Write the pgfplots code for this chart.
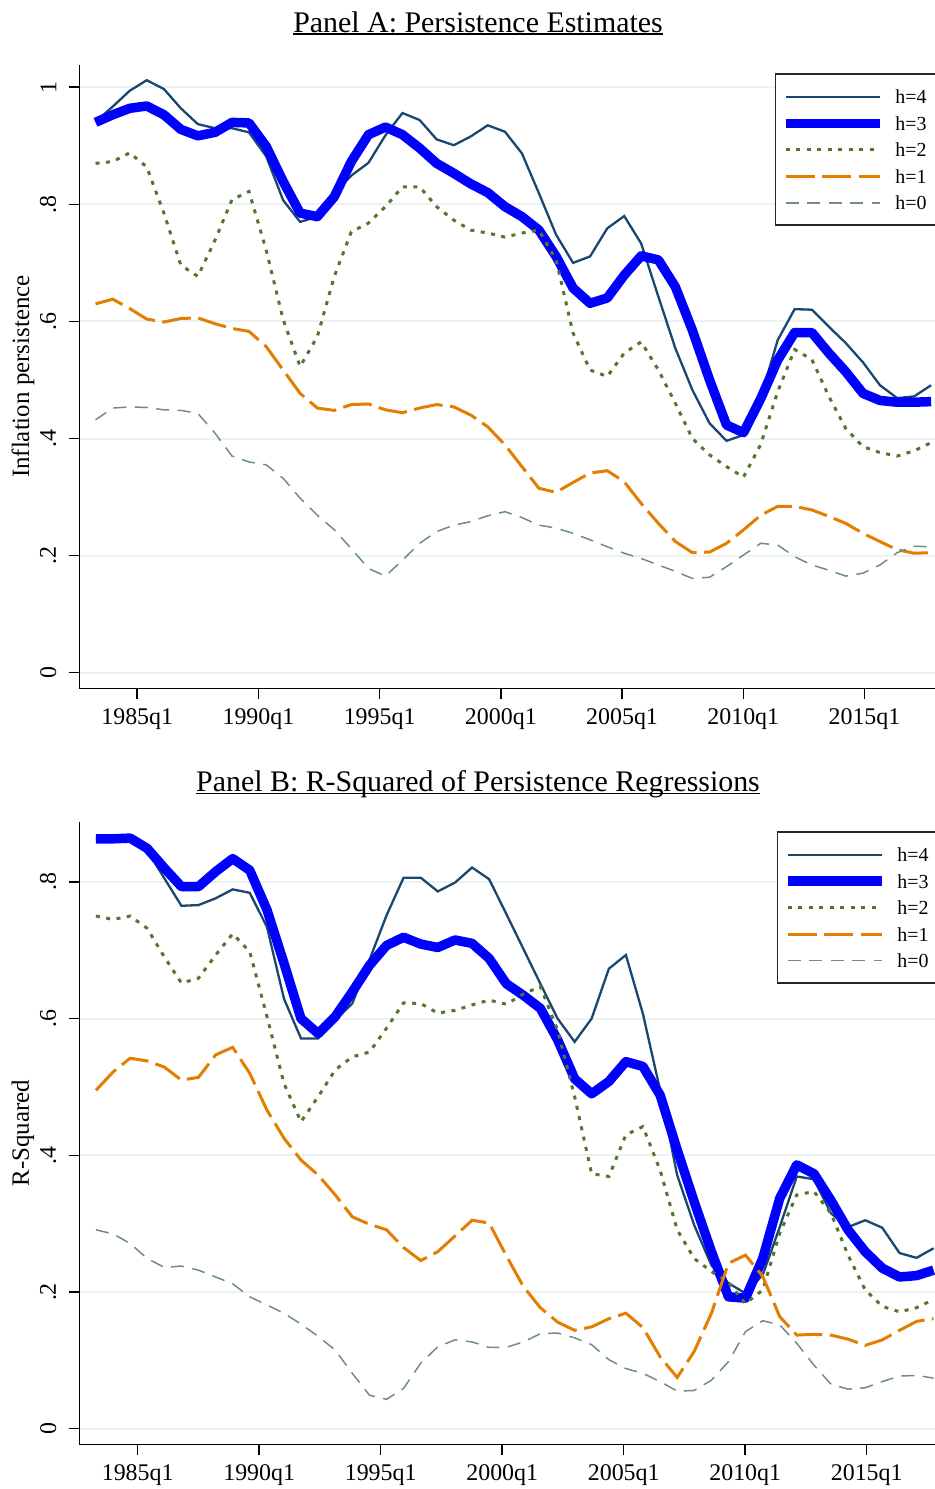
\documentclass[border=0pt]{standalone}
\usepackage{fontspec}
\setmainfont{Liberation Serif}
\usepackage{pgfplots}
\pgfplotsset{compat=1.18}
\usepackage{pgfplotstable}
\definecolor{snavy}{RGB}{26,71,111}
\definecolor{sgreen}{RGB}{85,117,47}
\definecolor{sorange}{RGB}{227,126,0}
\definecolor{steal}{RGB}{110,142,132}
\definecolor{sgrid}{RGB}{234,242,243}

\pgfplotstableread{
x h4 h3 h2 h1 h0
1983.28 0.941 0.940 0.870 0.630 0.432
1983.99 0.967 0.953 0.873 0.638 0.452
1984.69 0.994 0.964 0.888 0.622 0.454
1985.39 1.012 0.968 0.864 0.604 0.453
1986.10 0.997 0.953 0.785 0.599 0.449
1986.80 0.964 0.928 0.696 0.605 0.448
1987.50 0.937 0.917 0.677 0.606 0.443
1988.21 0.930 0.923 0.739 0.596 0.409
1988.91 0.930 0.940 0.808 0.588 0.370
1989.61 0.923 0.939 0.822 0.583 0.360
1990.32 0.882 0.899 0.722 0.557 0.355
1991.02 0.807 0.839 0.603 0.517 0.332
1991.72 0.770 0.785 0.523 0.477 0.298
1992.43 0.779 0.779 0.574 0.452 0.269
1993.13 0.819 0.813 0.677 0.448 0.244
1993.83 0.849 0.873 0.753 0.458 0.212
1994.54 0.871 0.919 0.768 0.459 0.178
1995.24 0.918 0.932 0.796 0.449 0.165
1995.94 0.956 0.919 0.830 0.444 0.192
1996.65 0.944 0.896 0.830 0.452 0.221
1997.35 0.911 0.870 0.796 0.458 0.241
1998.06 0.901 0.853 0.773 0.454 0.252
1998.76 0.916 0.835 0.756 0.440 0.258
1999.46 0.935 0.820 0.751 0.420 0.268
2000.17 0.924 0.796 0.744 0.389 0.275
2000.87 0.887 0.779 0.751 0.352 0.265
2001.57 0.819 0.756 0.756 0.315 0.252
2002.28 0.748 0.711 0.705 0.308 0.247
2002.98 0.700 0.657 0.580 0.325 0.238
2003.68 0.711 0.631 0.517 0.341 0.227
2004.39 0.759 0.640 0.506 0.345 0.215
2005.09 0.780 0.679 0.546 0.326 0.204
2005.79 0.733 0.712 0.565 0.289 0.195
2006.50 0.642 0.705 0.517 0.255 0.184
2007.20 0.554 0.659 0.460 0.224 0.173
2007.90 0.483 0.585 0.400 0.205 0.161
2008.61 0.426 0.500 0.372 0.206 0.163
2009.31 0.396 0.423 0.352 0.221 0.181
2010.01 0.406 0.410 0.334 0.244 0.201
2010.72 0.470 0.468 0.390 0.269 0.221
2011.42 0.568 0.534 0.480 0.284 0.218
2012.12 0.621 0.581 0.552 0.284 0.198
2012.83 0.620 0.581 0.535 0.278 0.184
2013.53 0.591 0.546 0.472 0.267 0.175
2014.23 0.563 0.514 0.417 0.255 0.165
2014.94 0.530 0.477 0.386 0.238 0.170
2015.64 0.491 0.465 0.376 0.224 0.184
2016.35 0.469 0.462 0.370 0.210 0.205
2017.05 0.472 0.462 0.379 0.204 0.216
2017.75 0.491 0.463 0.393 0.205 0.215
}\dataA

\pgfplotstableread{
x h4 h3 h2 h1 h0
1983.28 0.863 0.863 0.750 0.495 0.291
1983.99 0.863 0.863 0.745 0.522 0.285
1984.69 0.864 0.864 0.750 0.542 0.271
1985.39 0.846 0.849 0.732 0.538 0.249
1986.10 0.805 0.820 0.690 0.529 0.236
1986.80 0.765 0.793 0.652 0.510 0.238
1987.50 0.766 0.793 0.659 0.514 0.232
1988.21 0.776 0.815 0.693 0.547 0.222
1988.91 0.789 0.834 0.724 0.558 0.212
1989.61 0.784 0.817 0.698 0.520 0.193
1990.32 0.734 0.759 0.603 0.466 0.181
1991.02 0.629 0.681 0.505 0.425 0.169
1991.72 0.571 0.600 0.449 0.393 0.153
1992.43 0.571 0.578 0.486 0.371 0.135
1993.13 0.598 0.603 0.525 0.342 0.115
1993.83 0.622 0.639 0.544 0.310 0.081
1994.54 0.686 0.678 0.551 0.299 0.049
1995.24 0.751 0.707 0.586 0.291 0.043
1995.94 0.806 0.719 0.623 0.265 0.059
1996.65 0.806 0.709 0.622 0.246 0.096
1997.35 0.786 0.704 0.608 0.259 0.120
1998.06 0.799 0.715 0.612 0.282 0.130
1998.76 0.821 0.710 0.620 0.305 0.127
1999.46 0.804 0.688 0.627 0.301 0.119
2000.17 0.753 0.651 0.621 0.253 0.119
2000.87 0.702 0.634 0.636 0.208 0.127
2001.57 0.651 0.615 0.647 0.177 0.139
2002.28 0.600 0.569 0.583 0.156 0.140
2002.98 0.566 0.512 0.486 0.144 0.133
2003.68 0.600 0.490 0.373 0.149 0.123
2004.39 0.673 0.508 0.369 0.161 0.101
2005.09 0.693 0.537 0.430 0.169 0.088
2005.79 0.607 0.530 0.442 0.148 0.081
2006.50 0.495 0.488 0.378 0.105 0.069
2007.20 0.371 0.408 0.291 0.075 0.055
2007.90 0.298 0.332 0.249 0.113 0.056
2008.61 0.239 0.259 0.230 0.169 0.071
2009.31 0.213 0.193 0.214 0.242 0.098
2010.01 0.198 0.191 0.183 0.254 0.142
2010.72 0.225 0.249 0.203 0.223 0.158
2011.42 0.295 0.337 0.286 0.164 0.152
2012.12 0.369 0.386 0.342 0.137 0.125
2012.83 0.365 0.373 0.347 0.138 0.093
2013.53 0.315 0.334 0.315 0.137 0.065
2014.23 0.295 0.291 0.254 0.131 0.058
2014.94 0.305 0.259 0.203 0.122 0.060
2015.64 0.294 0.235 0.179 0.130 0.069
2016.35 0.257 0.222 0.171 0.144 0.077
2017.05 0.250 0.224 0.177 0.157 0.078
2017.75 0.264 0.232 0.189 0.161 0.074
}\dataB

\pgfplotsset{
  stata/.style={
    scale only axis, width=855.7bp,
    axis lines*=left, no markers,
    axis line style={line width=1.5bp, black},
    tick style={line width=1.5bp, black},
    tick align=outside, major tick length=10.5bp,
    xtick={1985,1990,1995,2000,2005,2010,2015},
    xticklabels={1985q1,1990q1,1995q1,2000q1,2005q1,2010q1,2015q1},
    xtick pos=bottom, ytick pos=left,
    ymajorgrids, grid style={sgrid, line width=2bp},
    ticklabel style={font=\fontsize{24}{28}\selectfont},
    xticklabel style={yshift=-6bp},
    yticklabel style={xshift=-9bp, rotate=90, anchor=south},
    ylabel style={font=\fontsize{25}{30}\selectfont, at={(axis description cs:-0.0658,0.5)}, anchor=center, rotate=0},
    legend style={draw=none, fill=none, anchor=north west,
      font=\fontsize{20}{24}\selectfont, inner xsep=5bp, inner ysep=15.7bp,
      row sep=12.5bp, column sep=11bp,
      nodes={inner sep=0bp, text height=14bp, text depth=0bp}},
    legend cell align=left,
    legend image code/.code={\draw[##1, line cap=butt] (0bp,0bp) -- (94bp,0bp);},
  },
  sh4/.style={snavy, line width=2.3bp},
  sh3/.style={blue, line width=9.5bp, line join=round},
  sh2/.style={sgreen, line width=3bp, dash pattern=on 4bp off 6.5bp},
  sh1/.style={sorange, line width=3bp, dash pattern=on 29bp off 7.5bp},
  sh0/.style={steal, line width=1.5bp, dash pattern=on 13bp off 8.5bp},
}

\begin{document}
\begin{tikzpicture}[x=1bp, y=1bp]
\path[use as bounding box] (0bp,0bp) rectangle (935bp,-1489bp);

\node[anchor=base, inner sep=0pt, font=\fontsize{30}{36}\selectfont] (tA) at (478bp,-32.3bp) {Panel A: Persistence Estimates};
\draw[line width=1.5bp] ([yshift=-1.6bp]tA.base west) -- ([yshift=-1.6bp]tA.base east);

\begin{axis}[stata, at={(79.3bp,-688.3bp)}, anchor=south west, height=623.3bp,
  xmin=1982.61, xmax=2017.91, ymin=-0.0267, ymax=1.038,
  ytick={0,0.2,0.4,0.6,0.8,1}, yticklabels={0,.2,.4,.6,.8,1},
  ylabel={Inflation persistence},
  legend style={at={(axis description cs:0.8138,0.9856)}}]
\addplot[sh4] table[x=x,y=h4]{\dataA};
\addplot[sh3] table[x=x,y=h3]{\dataA};
\addplot[sh2] table[x=x,y=h2]{\dataA};
\addplot[sh1] table[x=x,y=h1]{\dataA};
\addplot[sh0] table[x=x,y=h0]{\dataA};
\draw[fill=white, draw=black!85, line width=1.5bp] (axis description cs:0.8138,0.9856) rectangle (axis description cs:1.02,0.7433);
\legend{h=4,h=3,h=2,h=1,h=0}
\end{axis}

\node[anchor=base, inner sep=0pt, font=\fontsize{30}{36}\selectfont] (tB) at (478bp,-791.7bp) {Panel B: R-Squared of Persistence Regressions};
\draw[line width=1.5bp] ([yshift=-1.6bp]tB.base west) -- ([yshift=-1.6bp]tB.base east);

\begin{axis}[stata, at={(79.3bp,-1444.3bp)}, anchor=south west, height=622.6bp,
  xmin=1982.597, xmax=2017.81, ymin=-0.0228, ymax=0.888,
  ytick={0,0.2,0.4,0.6,0.8}, yticklabels={0,.2,.4,.6,.8},
  ylabel={R-Squared},
  legend style={at={(axis description cs:0.8162,0.9838)}}]
\addplot[sh4] table[x=x,y=h4]{\dataB};
\addplot[sh3] table[x=x,y=h3]{\dataB};
\addplot[sh2] table[x=x,y=h2]{\dataB};
\addplot[sh1] table[x=x,y=h1]{\dataB};
\addplot[sh0] table[x=x,y=h0]{\dataB};
\draw[fill=white, draw=black!85, line width=1.5bp] (axis description cs:0.8162,0.9838) rectangle (axis description cs:1.02,0.7407);
\legend{h=4,h=3,h=2,h=1,h=0}
\end{axis}
\end{tikzpicture}
\end{document}
